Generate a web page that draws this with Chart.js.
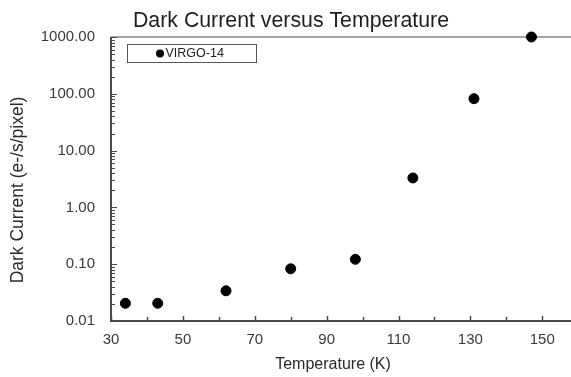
<!DOCTYPE html>
<html>
<head>
<meta charset="utf-8">
<script src="https://cdn.jsdelivr.net/npm/chart.js@4/dist/chart.umd.min.js"></script>
<style>
  html, body { margin: 0; padding: 0; background: #fff; }
  canvas { display: block; }
</style>
</head>
<body>
<canvas id="dark-current-chart" width="571" height="377"></canvas>
<script>
const ctx = document.getElementById('dark-current-chart').getContext('2d');

// data
const seriesName = 'VIRGO-14';
const temperatures = [34, 43, 62, 80, 98, 114, 131, 147];
const darkCurrent = [0.0205, 0.0205, 0.034, 0.083, 0.122, 3.3, 82, 1000];

const xTickLabels = [30, 50, 70, 90, 110, 130, 150];
const yTickLabels = [0.01, 0.1, 1, 10, 100, 1000];

const chartTitle = 'Dark Current versus Temperature';
const xAxisTitle = 'Temperature (K)';
const yAxisTitle = 'Dark Current (e-/s/pixel)';

Chart.defaults.font.family = '"Liberation Sans", Arial, sans-serif';

// axis lines, inside tick marks, titles and the boxed legend
const decorations = {
    id: 'decorations',
    beforeDatasetsDraw(chart) {
        const c = chart.ctx;
        const area = chart.chartArea;
        const xs = chart.scales.x;
        const ys = chart.scales.y;
        c.save();

        // top frame line
        c.strokeStyle = '#8a8a8a';
        c.lineWidth = 1.5;
        c.beginPath();
        c.moveTo(area.left, area.top);
        c.lineTo(chart.width, area.top);
        c.stroke();

        // axes
        c.strokeStyle = '#4a4a4a';
        c.lineWidth = 2;
        c.beginPath();
        c.moveTo(area.left, area.top);
        c.lineTo(area.left, area.bottom);
        c.lineTo(chart.width, area.bottom);
        c.stroke();

        // x tick marks, every 10 K, pointing up
        c.lineWidth = 1.5;
        for (let v = xs.min; v <= 150; v += 10) {
            const px = Math.round(xs.getPixelForValue(v)) + 0.5;
            const len = xTickLabels.includes(v) ? 5 : 4;
            c.beginPath();
            c.moveTo(px, area.bottom);
            c.lineTo(px, area.bottom - len);
            c.stroke();
        }

        // y tick marks, decades plus minor 2..9
        c.lineWidth = 1;
        yTickLabels.forEach(function (d) {
            const py = Math.round(ys.getPixelForValue(d)) + 0.5;
            c.beginPath();
            c.moveTo(area.left - 1, py);
            c.lineTo(area.left + 6, py);
            c.stroke();
            if (d >= ys.max) return;
            for (let k = 2; k <= 9; k++) {
                const my = Math.round(ys.getPixelForValue(d * k)) + 0.5;
                c.beginPath();
                c.moveTo(area.left, my);
                c.lineTo(area.left + 4, my);
                c.stroke();
            }
        });
        c.restore();
    },
    afterDraw(chart) {
        const c = chart.ctx;
        c.save();

        // chart title
        c.fillStyle = '#1e1e1e';
        c.font = '21.3px "Liberation Sans", Arial, sans-serif';
        c.textAlign = 'center';
        c.textBaseline = 'alphabetic';
        c.fillText(chartTitle, 291, 27);

        // x axis title
        c.fillStyle = '#2a2a2a';
        c.font = '16px "Liberation Sans", Arial, sans-serif';
        c.textBaseline = 'middle';
        c.fillText(xAxisTitle, 333, 365);

        // y axis title
        c.save();
        c.translate(18, 190);
        c.rotate(-Math.PI / 2);
        c.font = '17.5px "Liberation Sans", Arial, sans-serif';
        c.fillText(yAxisTitle, 0, 0);
        c.restore();

        // legend box
        c.fillStyle = '#fff';
        c.fillRect(127.5, 44.5, 129, 18);
        c.strokeStyle = '#555';
        c.lineWidth = 1;
        c.strokeRect(127.5, 44.5, 129, 18);
        c.fillStyle = '#000';
        c.beginPath();
        c.arc(160, 53.5, 4, 0, Math.PI * 2);
        c.fill();
        c.fillStyle = '#222';
        c.font = '12.5px "Liberation Sans", Arial, sans-serif';
        c.textAlign = 'left';
        c.fillText(chart.data.datasets[0].label, 165.5, 54);

        c.restore();
    }
};

const darkCurrentChart = new Chart(ctx, {
    type: 'scatter',
    data: {
        datasets: [{
            label: seriesName,
            data: temperatures.map((t, i) => ({ x: t, y: darkCurrent[i] })),
            backgroundColor: '#000',
            borderColor: '#000',
            pointRadius: 5,
            pointHoverRadius: 5,
            clip: false
        }]
    },
    options: {
        responsive: false,
        animation: false,
        devicePixelRatio: 1,
        layout: {
            autoPadding: false,
            padding: { top: 37, left: 0, right: 0, bottom: 0 }
        },
        scales: {
            x: {
                type: 'linear',
                min: 30,
                max: 158,
                grid: { display: false, drawTicks: false },
                border: { display: false },
                afterBuildTicks: function (scale) {
                    scale.ticks = xTickLabels.map(v => ({ value: v }));
                },
                afterFit: function (scale) {
                    scale.height = 56;
                    scale.paddingLeft = 0;
                    scale.paddingRight = 0;
                },
                ticks: {
                    padding: 10,
                    color: '#3a3a3a',
                    font: { size: 15 },
                    maxRotation: 0
                }
            },
            y: {
                type: 'logarithmic',
                min: 0.01,
                max: 1000,
                grid: { display: false, drawTicks: false },
                border: { display: false },
                afterBuildTicks: function (scale) {
                    scale.ticks = yTickLabels.map(v => ({ value: v }));
                },
                afterFit: function (scale) {
                    scale.width = 111;
                    scale.paddingTop = 0;
                    scale.paddingBottom = 0;
                },
                ticks: {
                    padding: 16,
                    color: '#3a3a3a',
                    font: { size: 15 },
                    callback: function (value) {
                        return Number(value).toFixed(2);
                    }
                }
            }
        },
        plugins: {
            legend: { display: false },
            title: { display: false },
            tooltip: { enabled: false }
        }
    },
    plugins: [decorations]
});
</script>
</body>
</html>
